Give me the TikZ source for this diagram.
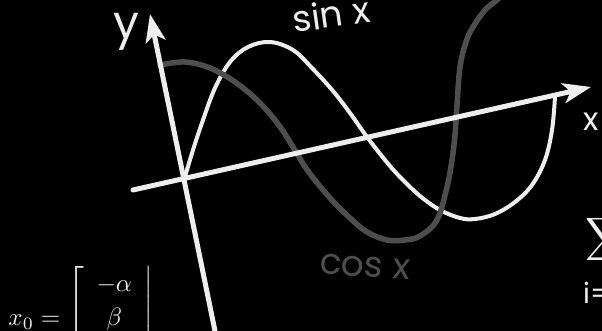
\documentclass[tikz,border=0pt]{standalone}
\usepackage{fontspec}
\setmainfont{Poppins}
\usetikzlibrary{arrows.meta}
\definecolor{chalk}{HTML}{EEEEEE}
\definecolor{chalkgray}{HTML}{4E4E4E}
\begin{document}
\begin{tikzpicture}[x=1pt,y=-1pt,
  axis/.style={chalk,line width=5pt,line cap=round,-{Stealth[length=28pt,width=20pt,inset=7pt]}},
  sincurve/.style={chalk,line width=4pt,line cap=round,line join=round},
  coscurve/.style={chalkgray,line width=5.5pt,line cap=round,line join=round},
  lbl/.style={text=chalk,inner sep=0pt},
  graylbl/.style={text=chalkgray,inner sep=0pt}]
\useasboundingbox (0,0) rectangle (602,331);
\fill[black] (0,0) rectangle (602,331);
\clip (0,0) rectangle (602,331);

% sin x (white)
\draw[sincurve] plot[smooth,tension=0.6] coordinates {
 (184,180) (193,150) (203,120) (215,88) (230,62) (248,47) (270,42) (293,50)
 (312,68) (333,91) (350,113) (367,137) (385,160) (400,177) (420,196)
 (440,210) (460,218) (475,219) (495,214) (515,202) (532,185) (545,160)
 (552,130) (555,97)};

% cos x (gray)
\draw[coscurve] plot[smooth,tension=0.6] coordinates {
 (160,65) (185,62) (210,68) (235,82) (258,101) (278,124) (293,147)
 (308,171) (330,198) (350,218) (367,232) (387,240) (405,240) (420,236)
 (437,220) (447,187) (452,160) (455,135) (457,105) (460,67) (466,42)
 (473,27) (485,10) (497,0) (505,-8)};

% axes
\coordinate (ybot) at (215,331);
\coordinate (ytop) at (150,14);
\coordinate (xleft) at (133,190);
\coordinate (xright) at (591,87);
\draw[axis] (ybot) -- (ytop);
\draw[axis] (xleft) -- (xright);

% labels
\node[lbl,font=\fontsize{46}{46}\selectfont] (ylab) at (126,32) {y};
\node[lbl,font=\fontsize{32}{32}\selectfont] (xlab) at (591,122) {x};
\node[lbl,font=\fontsize{36}{36}\selectfont,rotate=8] (sinlab) at (331,14) {sin x};
\node[graylbl,font=\fontsize{36}{36}\selectfont,rotate=-4] (coslab) at (365,267) {cos x};

% vector x_0
\node[lbl,anchor=north west,scale=2.5,transform shape] (vec) at (8,266)
 {\renewcommand{\arraystretch}{1.15}$x_0 = \left[\begin{array}{c}-\alpha\\ \beta\\ \phantom{0}\end{array}\right|$};

% sum at right edge
\node[lbl,anchor=west,scale=3,transform shape] (sum) at (585,240) {$\displaystyle\sum$};
\node[lbl,anchor=west,font=\fontsize{28}{28}\selectfont] (idx) at (583,293) {i=};
\end{tikzpicture}
\end{document}
